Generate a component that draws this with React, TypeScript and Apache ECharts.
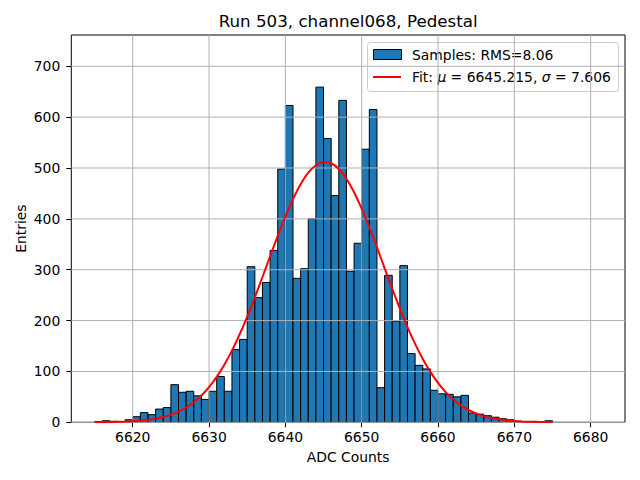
import React, { useEffect, useRef } from "react";
import * as echarts from "echarts";

const TITLE = "Run 503, channel068, Pedestal";
const X_NAME = "ADC Counts";
const Y_NAME = "Entries";
const LEGEND_SAMPLES = "Samples: RMS=8.06";
const FIT_MU = "6645.215";
const FIT_SIGMA = "7.606";

// histogram bins (left edges, width 1) and counts
const binStarts = [
  6615, 6616, 6617, 6618, 6619, 6620, 6621, 6622, 6623, 6624, 6625, 6626, 6627, 6628, 6629,
  6630, 6631, 6632, 6633, 6634, 6635, 6636, 6637, 6638, 6639, 6640, 6641, 6642, 6643, 6644,
  6645, 6646, 6647, 6648, 6649, 6650, 6651, 6652, 6653, 6654, 6655, 6656, 6657, 6658, 6659,
  6660, 6661, 6662, 6663, 6664, 6665, 6666, 6667, 6668, 6669, 6670, 6671, 6672, 6673, 6674,
];
const binCounts = [
  1, 3, 2, 1, 5, 11, 19, 15, 26, 29, 74, 59, 61, 52, 45,
  61, 90, 61, 143, 163, 306, 245, 275, 338, 498, 623, 283, 302, 400, 659,
  558, 446, 633, 297, 352, 537, 615, 68, 289, 199, 308, 135, 112, 105, 63,
  56, 55, 50, 53, 18, 16, 13, 10, 7, 5, 2, 1, 2, 1, 3,
];
const BIN_WIDTH = 1;

// fit curve
const fitX = [
  6615, 6616, 6617, 6618, 6619, 6620, 6621, 6622, 6623, 6624, 6625, 6626, 6627, 6628, 6629,
  6630, 6631, 6632, 6633, 6634, 6635, 6636, 6637, 6638, 6639, 6640, 6641, 6642, 6643, 6644,
  6645, 6646, 6647, 6648, 6649, 6650, 6651, 6652, 6653, 6654, 6655, 6656, 6657, 6658, 6659,
  6660, 6661, 6662, 6663, 6664, 6665, 6666, 6667, 6668, 6669, 6670, 6671, 6672, 6673, 6674, 6675,
];
const fitY = [
  0.2, 0.3, 0.5, 0.9, 1.4, 2.1, 3.2, 4.9, 7.2, 10.5, 15.0, 21.1, 29.1, 39.5, 52.8,
  69.2, 89.2, 113.2, 141.0, 172.6, 207.8, 245.8, 285.7, 326.5, 366.6, 404.7, 439.1, 468.2, 490.8, 505.5,
  511.8, 509.3, 498.1, 478.8, 452.4, 420.0, 383.4, 343.9, 303.2, 262.8, 223.8, 187.3, 154.1, 124.6, 99.1,
  77.4, 59.4, 44.8, 33.3, 24.2, 17.4, 12.2, 8.5, 5.8, 3.9, 2.5, 1.6, 1.0, 0.7, 0.4, 0.2,
];

const xTicks = [6620, 6630, 6640, 6650, 6660, 6670, 6680];
const yTicks = [0, 100, 200, 300, 400, 500, 600, 700];
const X_MIN = 6611.95;
const X_MAX = 6684.5;
const Y_MAX = 761.5;

const FONT = "DejaVu Sans";

export default function App() {
  const ref = useRef<HTMLDivElement>(null);
  useEffect(() => {
    if (!ref.current) return;
    const chart = echarts.init(ref.current, null, { renderer: "svg" });
    const grid = { left: 71.3, right: 15, top: 35, bottom: 57.7 };
    const plotCenterX = grid.left + (640 - grid.left - grid.right) / 2;

    const option: any = {
      animation: false,
      backgroundColor: "#ffffff",
      grid: { ...grid, show: true, borderColor: "#000", borderWidth: 1, backgroundColor: "transparent" },
      xAxis: {
        type: "value",
        min: X_MIN,
        max: X_MAX,
        name: X_NAME,
        nameLocation: "middle",
        nameGap: 28,
        nameTextStyle: { fontFamily: FONT, fontSize: 13.9, color: "#000", verticalAlign: "top" },
        axisLine: { show: false },
        axisTick: { show: true, length: 5, lineStyle: { color: "#000", width: 1 }, customValues: xTicks },
        axisLabel: {
          fontFamily: FONT,
          fontSize: 13.9,
          color: "#000",
          margin: 8,
          customValues: xTicks,
          formatter: (v: number) => String(v),
        },
        splitLine: { show: false },
      },
      yAxis: {
        type: "value",
        min: 0,
        max: Y_MAX,
        name: Y_NAME,
        nameLocation: "middle",
        nameGap: 50.3,
        nameRotate: 90,
        nameMoveOverlap: false,
        nameTextStyle: { fontFamily: FONT, fontSize: 13.9, color: "#000", align: "center", verticalAlign: "middle" },
        axisLine: { show: false },
        axisTick: { show: true, length: 5, lineStyle: { color: "#000", width: 1 }, customValues: yTicks },
        axisLabel: {
          fontFamily: FONT,
          fontSize: 13.9,
          color: "#000",
          margin: 11,
          customValues: yTicks,
          formatter: (v: number) => String(v),
        },
        splitLine: { show: false },
      },
      graphic: [
        {
          type: "text",
          x: plotCenterX,
          y: 21,
          style: { text: TITLE, fontFamily: FONT, fontSize: 16.7, fill: "#000", align: "center", verticalAlign: "middle" },
        },
        {
          type: "group",
          z: 100,
          children: [
            {
              type: "rect",
              shape: { x: 367.5, y: 42.5, width: 251, height: 49, r: 3 },
              style: { fill: "rgba(255,255,255,0.8)", stroke: "#cccccc", lineWidth: 1 },
            },
            {
              type: "rect",
              shape: { x: 373.5, y: 49.5, width: 28, height: 10 },
              style: { fill: "#1f77b4", stroke: "#000", lineWidth: 1 },
            },
            {
              type: "text",
              x: 412,
              y: 55,
              style: { text: LEGEND_SAMPLES, fontFamily: FONT, fontSize: 13.9, fill: "#000", verticalAlign: "middle" },
            },
            {
              type: "line",
              shape: { x1: 373, y1: 77, x2: 401, y2: 77 },
              style: { stroke: "red", lineWidth: 2 },
            },
            {
              type: "text",
              x: 412,
              y: 77,
              style: {
                text: `{n|Fit: }{i|μ}{n| = ${FIT_MU}, }{i|σ}{n| = ${FIT_SIGMA}}`,
                verticalAlign: "middle",
                rich: {
                  n: { fontFamily: FONT, fontSize: 13.9, fill: "#000" },
                  i: { fontFamily: FONT, fontSize: 13.9, fontStyle: "italic", fill: "#000" },
                },
              },
            },
          ],
        },
      ],
      series: [
        {
          type: "custom",
          name: "Samples",
          z: 2,
          clip: true,
          data: binStarts.map((b, i) => [b, binCounts[i]]),
          renderItem: (params: any, api: any) => {
            const x0 = api.value(0);
            const y = api.value(1);
            const p0 = api.coord([x0, y]);
            const p1 = api.coord([x0 + BIN_WIDTH, 0]);
            return {
              type: "rect",
              shape: { x: p0[0], y: p0[1], width: p1[0] - p0[0], height: p1[1] - p0[1] },
              style: { fill: "#1f77b4", stroke: "#000", lineWidth: 1 },
            };
          },
        },
        {
          type: "custom",
          name: "xgrid",
          z: 3,
          silent: true,
          data: xTicks.map((v) => [v, 0]),
          renderItem: (params: any, api: any) => {
            const cs = params.coordSys;
            const px = api.coord([api.value(0), 0])[0];
            return {
              type: "line",
              shape: { x1: px, y1: cs.y, x2: px, y2: cs.y + cs.height },
              style: { stroke: "#b0b0b0", lineWidth: 1 },
            };
          },
        },
        {
          type: "custom",
          name: "ygrid",
          z: 3,
          silent: true,
          data: yTicks.map((v) => [X_MIN, v]),
          renderItem: (params: any, api: any) => {
            const cs = params.coordSys;
            const py = api.coord([X_MIN, api.value(1)])[1];
            return {
              type: "line",
              shape: { x1: cs.x, y1: py, x2: cs.x + cs.width, y2: py },
              style: { stroke: "#b0b0b0", lineWidth: 1 },
            };
          },
        },
        {
          type: "line",
          name: "Fit",
          z: 4,
          data: fitX.map((x, i) => [x, fitY[i]]),
          showSymbol: false,
          smooth: 0.3,
          lineStyle: { color: "red", width: 2 },
        },
      ],
    };
    chart.setOption(option);
    return () => chart.dispose();
  }, []);
  return <div ref={ref} style={{ position: "fixed", left: 0, top: 0, width: 640, height: 480 }} />;
}
